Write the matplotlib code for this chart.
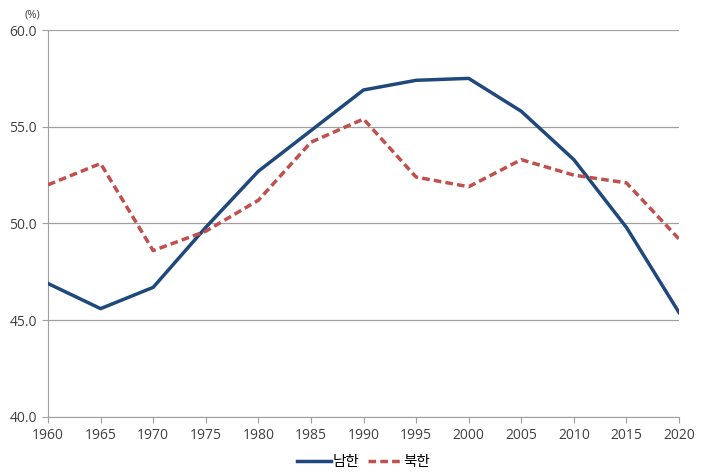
import matplotlib
matplotlib.use("Agg")
import matplotlib.pyplot as plt

plt.rcParams['font.family'] = ['Open Sans', 'Noto Sans CJK KR', 'DejaVu Sans']

years = [1960, 1965, 1970, 1975, 1980, 1985, 1990, 1995, 2000, 2005, 2010, 2015, 2020]
south = [46.9, 45.6, 46.7, 49.8, 52.7, 54.8, 56.9, 57.4, 57.5, 55.8, 53.3, 49.8, 45.4]
north = [52.0, 53.1, 48.6, 49.6, 51.2, 54.2, 55.4, 52.4, 51.9, 53.3, 52.5, 52.1, 49.2]
yticks = [40, 45, 50, 55, 60]

fig = plt.figure(figsize=(7.01, 4.76), dpi=100)
ax = fig.add_axes([48/701, 1-417/476, (679-48)/701, (417-30)/476])

ax.plot(years, south, color='#1F497D', lw=2.5, label='남한', zorder=3)
ax.plot(years, north, color='#C0504D', lw=2.5, ls=(0, (2.2, 1.2)), label='북한', zorder=3)

ax.set_xlim(1960, 2020)
ax.set_ylim(40, 60)
ax.set_xticks(years)
ax.set_xticklabels([str(y) for y in years], fontsize=10, color='#404040')
ax.set_yticks(yticks)
ax.set_yticklabels([f'{v:.1f}' for v in yticks], fontsize=10, color='#404040')
ax.yaxis.grid(True, color='#A0A0A0', lw=0.9)
ax.set_axisbelow(True)
for s in ['top', 'right']:
    ax.spines[s].set_visible(False)
for s in ['left', 'bottom']:
    ax.spines[s].set_color('#A0A0A0')
ax.tick_params(axis='both', color='#A0A0A0', length=4, pad=4)

ax.text(-0.012, 1.025, '(%)', transform=ax.transAxes, fontsize=8, color='#404040', ha='right', va='bottom')

ax.legend(loc='upper center', bbox_to_anchor=(0.5, -0.065), ncol=2, frameon=False,
          fontsize=10.5, handlelength=2.3, handletextpad=0.1, columnspacing=0.6)

fig.savefig('out.png', dpi=100)
